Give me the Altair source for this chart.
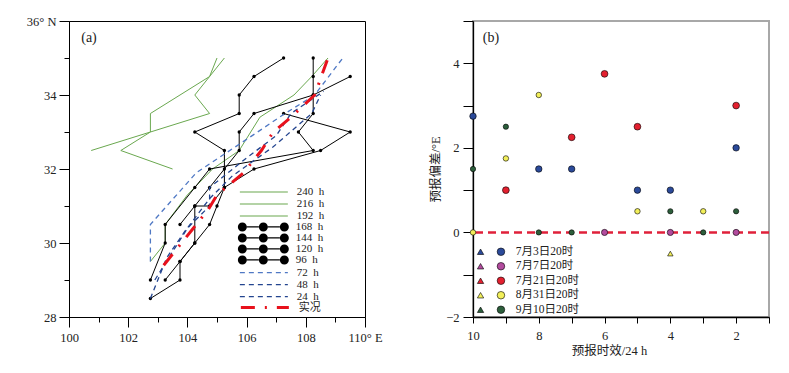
import altair as alt
import pandas as pd

SERIF = "Liberation Serif, Noto Sans CJK SC"
TXT = "#222222"
GREEN = "#6aa84f"
BLUE_L = "#4f78c4"
BLUE = "#23448f"
RED = "#e8111c"

# ---------------- panel (a): tracks (lon, lat) ----------------
g240_lon = [100.75, 102.75, 104.75, 104.25, 104.75, 105.25]
g240_lat = [32.5, 33.0, 33.5, 34.0, 34.5, 35.0]
g216_lon = [103.5, 101.75, 102.75, 102.75, 104.75, 105.0]
g216_lat = [32.0, 32.5, 33.0, 33.5, 34.5, 35.0]
g192_lon = [102.75, 103.25, 103.25, 104.0, 104.85, 105.75, 106.45, 107.6, 108.2, 108.75]
g192_lat = [29.5, 30.0, 30.5, 31.3, 32.0, 32.5, 33.4, 34.0, 34.5, 35.0]

b168_lon = [103.25, 103.75, 104.25, 104.75, 105.0, 105.25, 105.25, 105.25, 104.25, 105.75, 105.75, 106.25, 107.25]
b168_lat = [29.0, 29.5, 30.0, 30.5, 31.0, 31.5, 32.0, 32.5, 33.0, 33.5, 34.0, 34.5, 35.0]
b144_lon = [102.75, 103.75, 103.75, 104.25, 104.25, 104.75, 105.25, 106.25, 108.5, 109.5, 107.25]
b144_lat = [28.5, 29.0, 29.5, 30.0, 31.0, 31.0, 31.5, 32.0, 32.5, 33.0, 33.5]
b120_lon = [102.75, 103.25, 103.25, 104.25, 104.75, 108.25, 107.75, 108.25, 108.25, 108.25, 108.25]
b120_lat = [29.0, 30.0, 30.5, 31.5, 32.0, 32.5, 33.0, 33.5, 34.0, 34.5, 35.0]
b96_lon = [103.75, 104.25, 104.75, 105.75, 105.75, 106.25, 108.25, 109.5]
b96_lat = [30.5, 31.0, 31.5, 32.5, 33.0, 33.5, 34.0, 34.5]

c72_lon = [102.75, 102.75, 104.3, 106.0, 107.3, 108.3, 109.25]
c72_lat = [29.5, 30.5, 31.9, 32.8, 33.5, 34.0, 35.0]
c48_lon = [102.75, 103.3, 103.9, 104.75, 105.5, 106.9, 108.2, 108.5]
c48_lat = [28.5, 29.6, 30.3, 31.2, 31.8, 32.6, 33.5, 34.0]
c24_lon = [102.9, 104.0, 104.75, 104.75, 106.0, 107.0, 107.5, 108.6]
c24_lat = [29.0, 30.4, 31.0, 31.5, 32.3, 32.9, 33.5, 34.1]
obs_lon = [103.2, 103.7, 104.2, 104.7, 105.0, 105.9, 106.5, 106.9, 107.5, 108.3, 108.75]
obs_lat = [29.4, 29.9, 30.4, 30.9, 31.3, 31.9, 32.5, 33.0, 33.4, 34.0, 35.0]

green_names = ["240\u2002h", "216\u2002h", "192\u2002h"]
black_names = ["168\u2002h", "144\u2002h", "120\u2002h", "96\u2002h"]
blue_names = ["72\u2002h", "48\u2002h", "24\u2002h"]
obs_names = ["实况"]


def tracks(names, lons, lats):
    rows = []
    for n, lo, la in zip(names, lons, lats):
        for i, (x, y) in enumerate(zip(lo, la)):
            rows.append({"track": n, "i": i, "lon": x, "lat": y})
    return pd.DataFrame(rows)


green_df = tracks(green_names, [g240_lon, g216_lon, g192_lon], [g240_lat, g216_lat, g192_lat])
black_df = tracks(black_names, [b168_lon, b144_lon, b120_lon, b96_lon], [b168_lat, b144_lat, b120_lat, b96_lat])
blue_df = tracks(blue_names, [c72_lon, c48_lon, c24_lon], [c72_lat, c48_lat, c24_lat])
obs_df = tracks(obs_names, [obs_lon], [obs_lat])

even_big = {"condition": {"test": "datum.value % 2 == 0", "value": 10}, "value": 5}

xs = alt.Scale(domain=[100, 110], nice=False, zero=False)
ys = alt.Scale(domain=[28, 36], nice=False, zero=False)
x_axis_a = alt.Axis(
    values=list(range(100, 111)), title=None, grid=False, tickSize=even_big, labelFlush=False,
    labelExpr="datum.value == 110 ? '110° E' : (datum.value % 2 == 0 ? datum.label : '')",
    labelPadding=4, labelFontSize=12.5, domainColor="black", tickColor="black",
)
y_axis_a = alt.Axis(
    values=list(range(28, 37)), title=None, grid=False, tickSize=even_big, labelFlush=False,
    labelExpr="datum.value == 36 ? '36° N' : (datum.value % 2 == 0 ? datum.label : '')",
    labelPadding=3, labelFontSize=12.5, domainColor="black", tickColor="black",
)
X = alt.X("lon:Q", scale=xs, axis=x_axis_a)
Y = alt.Y("lat:Q", scale=ys, axis=y_axis_a)

# legend symbols: small nominal size (sets row height), custom paths drawn wider
U = 5.65          # px per path unit (symbolSize = (2U)^2) -> row height 11.3 px
ROW = 2 * U
SYM = ROW ** 2
L = 24 / U        # half length of the 48 px line symbol
line_path = f"M{-L},0 L{L},0"
rr = 4.5 / U
cc = 21 / U
tt = 0.6 / U


def _circ(cx):
    return f"M{cx - rr},0 A{rr},{rr} 0 1,1 {cx + rr},0 A{rr},{rr} 0 1,1 {cx - rr},0 Z "


dot_path = (_circ(-cc) + _circ(0) + _circ(cc)
            + f"M{-cc + rr},{-tt} L{-rr},{-tt} L{-rr},{tt} L{-cc + rr},{tt} Z "
            + f"M{rr},{-tt} L{cc - rr},{-tt} L{cc - rr},{tt} L{rr},{tt} Z")

LEGX = 194 - U
LABOFF = 226 - LEGX - ROW
Y0 = 166.0


def leg(y, **kw):
    base = dict(orient="none", legendX=LEGX, legendY=y, title=None, padding=0,
                labelFont=SERIF, labelFontSize=11, labelColor=TXT, rowPadding=0,
                symbolSize=SYM, labelOffset=LABOFF)
    base.update(kw)
    return alt.Legend(**base)


green_layer = alt.Chart(green_df).mark_line(strokeWidth=1).encode(
    x=X, y=Y, order="i:Q",
    stroke=alt.Stroke("track:N", scale=alt.Scale(domain=green_names, range=[GREEN] * 3),
                      legend=leg(Y0 - 1.5, symbolType=line_path, symbolStrokeWidth=1.2)),
)

black_line_layer = alt.Chart(black_df).mark_line(strokeWidth=1, color="black").encode(
    x=X, y=Y, order="i:Q", detail="track:N",
)

black_dot_layer = alt.Chart(black_df).mark_point(filled=True, size=11, opacity=1).encode(
    x=X, y=Y,
    fill=alt.Fill("track:N", scale=alt.Scale(domain=black_names, range=["black"] * 4),
                  legend=leg(Y0 + 3 * ROW, symbolType=dot_path, symbolStrokeWidth=0)),
)

blue_leg = leg(Y0 + 7 * ROW, symbolType=line_path, symbolStrokeWidth=1.3)
blue_layer = alt.Chart(blue_df).mark_line(strokeWidth=1.3).encode(
    x=X, y=Y, order="i:Q",
    stroke=alt.Stroke("track:N", scale=alt.Scale(domain=blue_names, range=[BLUE_L, BLUE, BLUE]),
                      legend=blue_leg),
    strokeDash=alt.StrokeDash("track:N", scale=alt.Scale(domain=blue_names, range=[[5, 4], [5, 4], [5, 4]]),
                              legend=blue_leg),
)

obs_leg = leg(Y0 + 10 * ROW, symbolType=line_path, symbolStrokeWidth=3)
obs_layer = alt.Chart(obs_df).mark_line(strokeWidth=3).encode(
    x=X, y=Y, order="i:Q",
    stroke=alt.Stroke("track:N", scale=alt.Scale(domain=obs_names, range=[RED]), legend=obs_leg),
    strokeDash=alt.StrokeDash("track:N", scale=alt.Scale(domain=obs_names, range=[[14, 10, 2, 10]]),
                              legend=obs_leg),
)

tag_a = alt.Chart(pd.DataFrame({"t": ["(a)"]})).mark_text(
    font=SERIF, fontSize=14, align="center", baseline="middle", color=TXT
).encode(text="t:N", x=alt.value(20), y=alt.value(17))

left = alt.layer(
    green_layer, black_line_layer, black_dot_layer, blue_layer, obs_layer, tag_a
).resolve_scale(
    stroke="independent", strokeDash="independent", fill="independent"
).properties(width=296, height=296, view=alt.ViewBackground(stroke="black", strokeWidth=1))

# ---------------- panel (b): forecast deviation ----------------
series_names = ["7月3日20时", "7月7日20时", "7月21日20时", "8月31日20时", "9月10日20时"]
series_colors = ["#2b4a9a", "#b24b9e", "#e3202f", "#f2ef5a", "#2c5e3b"]
series_sizes = [42, 38, 46, 30, 28]

blue_lead = [10, 8, 7, 5, 4, 2]
blue_val = [2.75, 1.5, 1.5, 1.0, 1.0, 2.0]
mag_lead = [6, 4, 2]
mag_val = [0, 0, 0]
red_lead = [9, 7, 6, 5, 2]
red_val = [1.0, 2.25, 3.75, 2.5, 3.0]
yel_lead = [10, 9, 8, 5, 3]
yel_val = [0, 1.75, 3.25, 0.5, 0.5]
grn_lead = [10, 9, 8, 7, 4, 3, 2]
grn_val = [1.5, 2.5, 0, 0, 0.5, 0, 0.5]

tri_series = ["8月31日20时"]
tri_lead = [4]
tri_val = [-0.5]

rows = []
for name, sz, leads, vals in zip(series_names, series_sizes,
                                 [blue_lead, mag_lead, red_lead, yel_lead, grn_lead],
                                 [blue_val, mag_val, red_val, yel_val, grn_val]):
    for ld, v in zip(leads, vals):
        rows.append({"series": name, "lead": ld, "val": v, "sz": sz})
pts_df = pd.DataFrame(rows)
tri_df = pd.DataFrame({"tser": tri_series, "lead": tri_lead, "val": tri_val})
zero_df = pd.DataFrame({"z": [0]})

xs_b = alt.Scale(domain=[1, 10], reverse=True, nice=False, zero=False)
ys_b = alt.Scale(domain=[-2, 5], nice=False, zero=False)
x_axis_b = alt.Axis(
    values=list(range(1, 11)), grid=False, tickSize=6, title="预报时效/24 h", labelFlush=False,
    labelExpr="datum.value % 2 == 0 ? datum.label : ''", labelPadding=6,
    labelFontSize=12.5, titleFontSize=12.5, titlePadding=3, titleFontWeight="normal", titleX=136,
    domainColor="black", tickColor="black", domainWidth=1.3,
)
y_axis_b = alt.Axis(
    values=list(range(-2, 6)), grid=False, tickSize=10, title="预报偏差/°E", labelFlush=False,
    labelExpr="datum.value % 2 == 0 ? datum.label : ''", labelPadding=4,
    labelFontSize=12.5, titleFontSize=12.5, titlePadding=3, titleFontWeight="normal",
    domainColor="black", tickColor="black", domainWidth=1.3,
)
XB = alt.X("lead:Q", scale=xs_b, axis=x_axis_b)
YB = alt.Y("val:Q", scale=ys_b, axis=y_axis_b)

zero_line = alt.Chart(zero_df).mark_rule(color="#e0203a", strokeWidth=2.5, strokeDash=[8, 5]).encode(
    y=alt.Y("z:Q", scale=ys_b, axis=y_axis_b)
)


def legb(x, **kw):
    base = dict(orient="none", legendX=x, legendY=225, title=None, padding=0,
                labelFont=SERIF, labelFontSize=11.5, labelColor=TXT, rowPadding=1.5,
                symbolStrokeColor="black", symbolStrokeWidth=0.6)
    base.update(kw)
    return alt.Legend(**base)


circles = alt.Chart(pts_df).mark_point(filled=True, opacity=1, stroke="black", strokeWidth=0.6).encode(
    x=XB, y=YB,
    size=alt.Size("sz:Q", scale=None, legend=None),
    fill=alt.Fill("series:N", scale=alt.Scale(domain=series_names, range=series_colors),
                  legend=legb(22.2, symbolType="circle", symbolSize=57, labelOffset=9)),
)

triangles = alt.Chart(tri_df).mark_point(filled=True, opacity=1, shape="triangle-up", size=30,
                                         stroke="black", strokeWidth=0.6).encode(
    x=XB, y=YB,
    fill=alt.Fill("tser:N", scale=alt.Scale(domain=series_names, range=series_colors),
                  legend=legb(1.8, symbolType="triangle-up", symbolSize=40, labelOffset=0,
                              labelExpr="''")),
)

tag_b = alt.Chart(pd.DataFrame({"t": ["(b)"]})).mark_text(
    font=SERIF, fontSize=14, align="center", baseline="middle", color=TXT
).encode(text="t:N", x=alt.value(18), y=alt.value(17))

right = alt.layer(zero_line, circles, triangles, tag_b).resolve_scale(
    fill="independent"
).properties(width=296, height=296, view=alt.ViewBackground(stroke="#a8a8a8", strokeWidth=2))

chart = alt.hconcat(left, right, spacing=108, bounds="flush").properties(
    padding={"left": 17, "top": 6, "right": 5, "bottom": 5}
).configure_axis(
    labelFont=SERIF, titleFont=SERIF, labelColor=TXT, titleColor=TXT,
).configure_legend(labelFont=SERIF)

chart.save("out.html", embed_options={"renderer": "svg", "actions": False})
